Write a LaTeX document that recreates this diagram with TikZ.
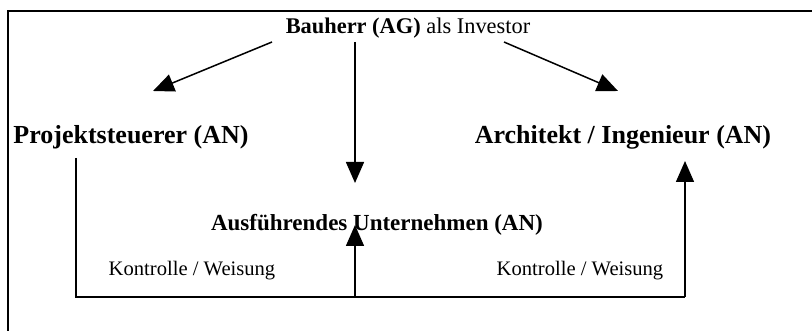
\documentclass[tikz,border=0pt]{standalone}
\usepackage{fontspec}
\setmainfont{Liberation Serif}
\usetikzlibrary{arrows.meta}
\tikzset{
  conn/.style={line width=1.5pt},
  arr/.style={conn,-{Triangle[length=21pt,width=18pt]}},
  head/.style={inner sep=0pt,anchor=center,font=\fontsize{26}{30}\selectfont\bfseries},
  mid/.style={inner sep=0pt,anchor=center,font=\fontsize{23}{27}\selectfont\bfseries},
  top/.style={inner sep=0pt,anchor=center,font=\fontsize{22.4}{26}\selectfont},
  lab/.style={inner sep=0pt,anchor=center,font=\fontsize{20.6}{24}\selectfont},
}
\begin{document}
\begin{tikzpicture}[x=1pt,y=-1pt]
\useasboundingbox (0,0) rectangle (812,331);
% frame (top and left only)
\draw[conn] (8,331) -- (8,11) -- (812,11);
% texts
\node[top] (bau) at (408,28) {{\bfseries Bauherr (AG)} als Investor};
\node[head] (ps) at (131,137) {Projektsteuerer (AN)};
\node[head] (ai) at (623,137) {Architekt / Ingenieur (AN)};
\node[mid] (au) at (377,225) {Ausführendes Unternehmen (AN)};
\node[lab] (kl) at (192,271) {Kontrolle / Weisung};
\node[lab] (kr) at (580,271) {Kontrolle / Weisung};
% coordinates
\coordinate (bl) at (272,42);
\coordinate (bc) at (355,42);
\coordinate (br) at (504,42);
\coordinate (tl) at (153,91);
\coordinate (tc) at (355,183);
\coordinate (tr) at (618,91);
\coordinate (pl) at (76,158);
\coordinate (cl) at (76,297);
\coordinate (cm) at (355,297);
\coordinate (cr) at (685,297);
\coordinate (ut) at (355,225);
\coordinate (rt) at (685,161);
% connectors
\draw[arr] (bl) -- (tl);
\draw[arr] (bc) -- (tc);
\draw[arr] (br) -- (tr);
\draw[conn] (pl) -- (cl) -- (cr);
\draw[arr] (cr) -- (rt);
\draw[arr] (cm) -- (ut);
\end{tikzpicture}
\end{document}
